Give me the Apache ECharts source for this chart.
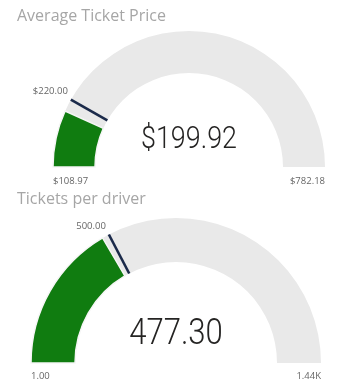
<!DOCTYPE html>
<html><head><meta charset="utf-8">
<script src="https://cdn.jsdelivr.net/npm/echarts@6/dist/echarts.min.js"></script>
<style>html,body{margin:0;padding:0;background:#fff}#c{width:364px;height:389px}</style>
</head><body><div id="c"></div>
<script>
const titles = ['Average Ticket Price', 'Tickets per driver'];
const values = [199.92, 477.30];
const targets = [220, 500];
const mins = [108.97, 1];
const maxs = [782.18, 1440];
const valueLabels = ['$199.92', '477.30'];
const targetLabels = ['$220.00', '500.00'];
const minLabels = ['$108.97', '1.00'];
const maxLabels = ['$782.18', '1.44K'];

const layout = [
  {cx: 189, cy: 167, r: 136, w: 42, titleY: 16, fs: 32, dy: -27, labDy: 14},
  {cx: 176, cy: 363, r: 145, w: 44, titleY: 199, fs: 37, dy: -28, labDy: 13}
];

const GREEN = '#107c10', GRAY = '#e9e9e9', NAVY = '#1b2a4a';
const series = [];
const graphics = [];

layout.forEach((L, i) => {
  const common = {
    type: 'gauge', min: mins[i], max: maxs[i], startAngle: 180, endAngle: 0,
    center: [L.cx, L.cy], radius: L.r, splitNumber: 1,
    axisTick: {show: false}, splitLine: {show: false}, axisLabel: {show: false},
    anchor: {show: false}, title: {show: false}, detail: {show: false},
    silent: true, animation: false
  };
  series.push(Object.assign({}, common, {
    axisLine: {show: true, lineStyle: {width: L.w, color: [[1, GRAY]]}},
    progress: {show: true, width: L.w, roundCap: false, itemStyle: {color: GREEN, borderColor: '#f6f6f6', borderWidth: 1.5}},
    pointer: {show: false},
    data: [{value: values[i]}]
  }));
  series.push(Object.assign({}, common, {
    axisLine: {show: false},
    progress: {show: false},
    pointer: {show: true, icon: 'rect', width: 2.6, length: L.w, offsetCenter: [0, -(L.r - L.w)], itemStyle: {color: NAVY}},
    data: [{value: targets[i]}]
  }));

  // big value text (condensed look)
  graphics.push({type: 'text', x: L.cx, y: L.cy + L.dy, scaleX: 0.84, style: {
    text: valueLabels[i], fill: '#252423', font: '300 ' + L.fs + 'px Roboto',
    textAlign: 'center', textVerticalAlign: 'middle'}});
  // titles
  graphics.push({type: 'text', x: 17, y: L.titleY, style: {text: titles[i], fill: '#a6a6a6', font: '16px "Open Sans"', textVerticalAlign: 'middle'}});
  // min / max labels
  const labFont = '9.5px "Open Sans"';
  graphics.push({type: 'text', x: L.cx - L.r, y: L.cy + L.labDy, style: {text: minLabels[i], fill: '#666', font: labFont, textAlign: 'left', textVerticalAlign: 'middle'}});
  graphics.push({type: 'text', x: L.cx + L.r, y: L.cy + L.labDy, style: {text: maxLabels[i], fill: '#666', font: labFont, textAlign: 'right', textVerticalAlign: 'middle'}});
  // target label near outer end of target line
  const frac = (targets[i] - mins[i]) / (maxs[i] - mins[i]);
  const th = Math.PI * (1 - frac);
  const px = L.cx + L.r * Math.cos(th), py = L.cy - L.r * Math.sin(th);
  graphics.push({type: 'text', x: px - 3, y: py - 3, style: {text: targetLabels[i], fill: '#666', font: labFont, textAlign: 'right', textVerticalAlign: 'bottom'}});
});

const chart = echarts.init(document.getElementById('c'), null, {renderer: 'canvas'});
chart.setOption({animation: false, series: series, graphic: graphics});
</script>
</body></html>
